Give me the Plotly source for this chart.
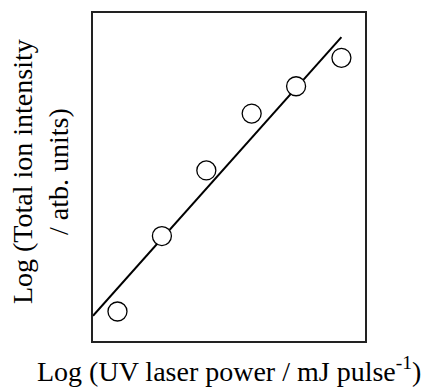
import plotly.graph_objects as go

# Measured points: log UV laser power vs. log total ion intensity (arbitrary units)
log_power = [0.27, 0.76, 1.25, 1.75, 2.24, 2.74]
log_intensity = [0.27, 0.96, 1.56, 2.08, 2.33, 2.59]

# Linear fit drawn across the data
fit_x = [0.0, 2.74]
fit_y = [0.23, 2.78]

x_title = "Log (UV laser power / mJ pulse<sup>-1</sup>)"
y_title = "Log (Total ion intensity<br>/ atb. units)"

FONT = "Liberation Serif"

fig = go.Figure()
fig.add_trace(go.Scatter(
    x=fit_x, y=fit_y, mode="lines",
    line=dict(color="black", width=2),
    showlegend=False, hoverinfo="skip",
))
fig.add_trace(go.Scatter(
    x=log_power, y=log_intensity, mode="markers",
    marker=dict(symbol="circle", size=19, color="white",
                line=dict(color="black", width=1.3)),
    showlegend=False,
))

axis_style = dict(
    showgrid=False, zeroline=False, showticklabels=False, ticks="",
    showline=True, linecolor="#222", linewidth=1.5, mirror=True,
)
fig.update_xaxes(range=[0, 3], **axis_style)
fig.update_yaxes(range=[0, 3], **axis_style)

fig.add_annotation(
    text=x_title, xref="paper", yref="paper", x=0.5, y=-0.088,
    xanchor="center", yanchor="middle", showarrow=False,
    font=dict(family=FONT, size=28, color="black"),
)
fig.add_annotation(
    text=y_title, xref="paper", yref="paper", x=-0.195, y=0.518,
    xanchor="center", yanchor="middle", textangle=-90, showarrow=False,
    align="center", font=dict(family=FONT, size=28, color="black"),
)

fig.update_layout(
    width=423, height=387,
    margin=dict(l=93, r=58, t=11, b=46),
    paper_bgcolor="white", plot_bgcolor="white",
    font=dict(family=FONT, color="black"),
)

fig.write_html("out.html")
